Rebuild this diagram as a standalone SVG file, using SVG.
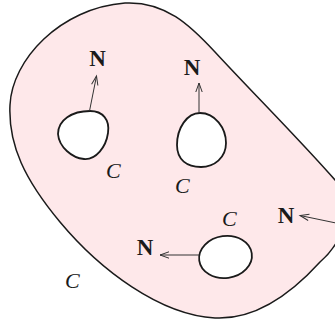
<svg xmlns="http://www.w3.org/2000/svg" width="335" height="325" viewBox="0 0 335 325">
<style>
.blob{fill:#fee8ea;stroke:#1a1a1a;stroke-width:1.5}
.hole{fill:#ffffff;stroke:#1a1a1a;stroke-width:1.8}
.arr{fill:none;stroke:#333;stroke-width:1;marker-end:url(#ah)}
.N{font-family:"Liberation Serif",serif;font-weight:bold;font-size:23px;fill:#1a1a1a;text-anchor:middle}
.C{font-family:"Liberation Serif",serif;font-style:italic;font-size:22px;fill:#1a1a1a}
</style>
<defs>
<marker id="ah" markerUnits="userSpaceOnUse" markerWidth="12" markerHeight="10" viewBox="-10 -5 12 10" refX="0" refY="0" orient="auto">
<path d="M-9,-3.2 L0,0 L-9,3.2" fill="none" stroke="#333" stroke-width="1"/>
</marker>
</defs>
<g id="region">
<path class="blob" d="M125,3 C165,1 190,25 215,52 C250,90 300,140 335,180 C355,205 345,240 320,262 C290,295 255,320 215,318 C160,315 100,270 60,222 C25,180 8,145 10,105 C12,60 60,8 125,3 Z"/>
</g>
<g id="hole1">
<path class="hole" d="M90,111 C103,111 110,120 108,133 C106,147 96,160 84,159 C72,158 59,147 58,134 C58,120 72,111 90,111 Z"/>
</g>
<g id="hole2">
<path class="hole" d="M200,113 C215,113 226,128 226,143 C226,158 214,167 201,167 C187,167 177,160 177,145 C177,128 187,113 200,113 Z"/>
</g>
<g id="hole3">
<ellipse class="hole" cx="225.5" cy="257" rx="26.5" ry="21" transform="rotate(-8 225.5 257)"/>
</g>
<g id="connectors">
<line class="arr" x1="89.5" y1="111" x2="96.5" y2="76"/>
<line class="arr" x1="199" y1="113" x2="199" y2="83"/>
<line class="arr" x1="199" y1="255" x2="160" y2="255"/>
<line class="arr" x1="336" y1="223" x2="300" y2="215.5"/>
</g>
<g id="labels">
<text class="N" x="97.5" y="66">N</text>
<text class="N" x="192" y="75">N</text>
<text class="N" x="145" y="255">N</text>
<text class="N" x="286" y="223">N</text>
<text class="C" x="106" y="178">C</text>
<text class="C" x="175" y="193">C</text>
<text class="C" x="222" y="226">C</text>
<text class="C" x="65" y="288">C</text>
</g>
</svg>
